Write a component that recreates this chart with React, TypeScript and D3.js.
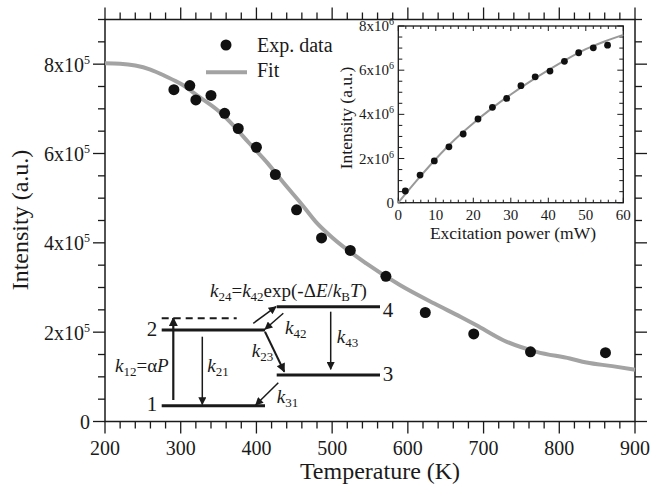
import React from 'react';
import * as d3 from 'd3';

// Main plot: temperature dependence (intensity in units of 1e5)
const tempData = [291, 312, 320, 340, 358, 376, 400, 425, 453, 486, 524, 571, 623, 687, 762, 861];
const intensityData = [7.43, 7.52, 7.2, 7.3, 6.9, 6.56, 6.14, 5.53, 4.74, 4.11, 3.83, 3.25, 2.44, 1.96, 1.56, 1.54];
const fitT = [200, 220, 240, 260, 280, 300, 325, 350, 370, 390, 415, 435, 460, 480, 500, 545, 590, 635, 670, 690, 726, 770, 814, 836, 870, 900];
const fitI = [8.02, 8.01, 7.97, 7.88, 7.73, 7.56, 7.26, 6.95, 6.62, 6.24, 5.78, 5.36, 4.86, 4.44, 4.12, 3.54, 3.05, 2.64, 2.34, 2.16, 1.82, 1.56, 1.41, 1.32, 1.24, 1.16];
const xTickValues = [200, 300, 400, 500, 600, 700, 800, 900];
const yTickValues = [0, 2, 4, 6, 8];
const yExponent = '5';

// Inset: power dependence (intensity in units of 1e6)
const powerData = [1.87, 5.8, 9.6, 13.5, 17.3, 21.25, 25.1, 28.9, 32.7, 36.5, 40.45, 44.3, 48.1, 52, 55.8];
const powerIntensity = [0.53, 1.25, 1.89, 2.53, 3.11, 3.79, 4.32, 4.72, 5.3, 5.7, 5.96, 6.4, 6.79, 7.01, 7.13];
const fitP = [0, 5, 10, 15, 20, 25, 30, 35, 40, 45, 50, 55, 60];
const fitPI = [0, 1.02, 1.98, 2.85, 3.6, 4.28, 4.9, 5.47, 6.0, 6.5, 6.95, 7.3, 7.6];
const insetXTicks = [0, 10, 20, 30, 40, 50, 60];
const insetYTicks = [0, 2, 4, 6, 8];
const insetExponent = '6';

const FONT = '"Liberation Serif", "Times New Roman", Times, serif';

export default function App() {
  const W = 663, H = 485;
  const x = d3.scaleLinear().domain([200, 900]).range([105, 635]);
  const y = d3.scaleLinear().domain([0, 9]).range([421.5, 19.5]);
  const ix = d3.scaleLinear().domain([0, 60]).range([398.3, 623.3]);
  const iy = d3.scaleLinear().domain([0, 8]).range([202.7, 26]);

  const fitLine = d3.line<number>().x((d, i) => x(fitT[i])).y((d) => y(d)).curve(d3.curveMonotoneX);
  const insetLine = d3.line<number>().x((d, i) => ix(fitP[i])).y((d) => iy(d)).curve(d3.curveMonotoneX);

  const [x0, x1] = x.range();
  const [y0, y1] = y.range();
  const xMinor = d3.range(200, 901, 20);
  const yMinor = d3.range(0, 9.01, 0.5);
  const isMajX = (v: number) => v % 100 === 0;
  const isMajY = (v: number) => Math.abs(v % 2) < 1e-9;

  const [ix0, ix1] = ix.range();
  const [iy0, iy1] = iy.range();
  const ixMinor = d3.range(0, 60.01, 2);
  const iyMinor = d3.range(0, 8.01, 0.5);

  const ax = '#1a1a1a';
  const fitColor = '#a3a3a3';

  const sub = (t: string, size = 13) => (
    <tspan fontSize={size} fontStyle="normal" dy={4}>{t}</tspan>
  );

  return (
    <svg width={W} height={H} style={{ position: 'absolute', left: 0, top: 0, background: '#fff' }} fontFamily={FONT}>
      <defs>
        <marker id="ah" viewBox="0 0 10 10" refX="9" refY="5" markerWidth="9" markerHeight="8" markerUnits="userSpaceOnUse" orient="auto">
          <path d="M0,0 L10,5 L0,10 z" fill={ax} />
        </marker>
        <marker id="ahb" viewBox="0 0 10 10" refX="9" refY="5" markerWidth="11" markerHeight="9" markerUnits="userSpaceOnUse" orient="auto">
          <path d="M0,0 L10,5 L0,10 z" fill={ax} />
        </marker>
      </defs>
      <rect x={0} y={0} width={W} height={H} fill="#fff" />

      {/* main frame */}
      <rect x={x0} y={y1} width={x1 - x0} height={y0 - y1} fill="none" stroke={ax} strokeWidth={1.5} />
      {xMinor.map((v) => {
        const len = isMajX(v) ? 12 : 7;
        return (
          <g key={'xt' + v}>
            <line x1={x(v)} x2={x(v)} y1={y0} y2={y0 + len} stroke={ax} strokeWidth={1.3} />
            <line x1={x(v)} x2={x(v)} y1={y1} y2={y1 - len} stroke={ax} strokeWidth={1.3} />
          </g>
        );
      })}
      {yMinor.map((v) => {
        const len = isMajY(v) ? 12 : 7;
        return (
          <g key={'yt' + v}>
            <line x1={x0} x2={x0 - len} y1={y(v)} y2={y(v)} stroke={ax} strokeWidth={1.3} />
            <line x1={x1} x2={x1 + len} y1={y(v)} y2={y(v)} stroke={ax} strokeWidth={1.3} />
          </g>
        );
      })}
      {xTickValues.map((v) => (
        <text key={'xl' + v} x={x(v)} y={455} fontSize={20} textAnchor="middle" fill={ax}>{v}</text>
      ))}
      {yTickValues.map((v) => (
        <text key={'yl' + v} x={90} y={y(v) + 7.5} fontSize={20} textAnchor="end" fill={ax}>
          {v === 0 ? '0' : (
            <>
              {v}x10<tspan fontSize={12} dy={-8}>{yExponent}</tspan>
            </>
          )}
        </text>
      ))}
      <text x={380} y={479} fontSize={24} textAnchor="middle" fill={ax}>Temperature (K)</text>
      <text transform={`translate(28,220) rotate(-90)`} fontSize={24} textAnchor="middle" fill={ax}>Intensity (a.u.)</text>

      {/* fit and data */}
      <path d={fitLine(fitI) || ''} fill="none" stroke={fitColor} strokeWidth={4} />
      {tempData.map((t, i) => (
        <circle key={'p' + i} cx={x(t)} cy={y(intensityData[i])} r={5.5} fill="#111" />
      ))}

      {/* legend */}
      <circle cx={226} cy={45} r={5.5} fill="#111" />
      <text x={257} y={51.5} fontSize={20} fill={ax}>Exp. data</text>
      <line x1={206} x2={247} y1={72.3} y2={72.3} stroke={fitColor} strokeWidth={4} />
      <text x={257} y={76.5} fontSize={20} fill={ax}>Fit</text>

      {/* inset */}
      <rect x={ix0} y={iy1} width={ix1 - ix0} height={iy0 - iy1} fill="#fff" stroke={ax} strokeWidth={1.3} />
      {ixMinor.map((v) => {
        const len = v % 10 === 0 ? 5 : 3;
        return (
          <g key={'ixt' + v}>
            <line x1={ix(v)} x2={ix(v)} y1={iy0} y2={iy0 - len} stroke={ax} strokeWidth={1} />
            <line x1={ix(v)} x2={ix(v)} y1={iy1} y2={iy1 + len} stroke={ax} strokeWidth={1} />
          </g>
        );
      })}
      {iyMinor.map((v) => {
        const len = isMajY(v) ? 6 : 4;
        return (
          <g key={'iyt' + v}>
            <line x1={ix0} x2={ix0 + len} y1={iy(v)} y2={iy(v)} stroke={ax} strokeWidth={1} />
            <line x1={ix1} x2={ix1 - len} y1={iy(v)} y2={iy(v)} stroke={ax} strokeWidth={1} />
          </g>
        );
      })}
      {insetXTicks.map((v) => (
        <text key={'ixl' + v} x={ix(v)} y={219.5} fontSize={15} textAnchor="middle" fill={ax}>{v}</text>
      ))}
      {insetYTicks.map((v) => (
        <text key={'iyl' + v} x={394} y={iy(v) + 5} fontSize={15} textAnchor="end" fill={ax}>
          {v === 0 ? '0' : (
            <>
              {v}x10<tspan fontSize={10} dy={-6}>{insetExponent}</tspan>
            </>
          )}
        </text>
      ))}
      <text x={513} y={239} fontSize={17.5} textAnchor="middle" fill={ax}>Excitation power (mW)</text>
      <text transform={`translate(352,118) rotate(-90)`} fontSize={17.5} textAnchor="middle" fill={ax}>Intensity (a.u.)</text>
      <path d={insetLine(fitPI) || ''} fill="none" stroke="#999" strokeWidth={2} />
      {powerData.map((p, i) => (
        <circle key={'ip' + i} cx={ix(p)} cy={iy(powerIntensity[i])} r={3.4} fill="#111" />
      ))}

      {/* energy level diagram */}
      <g stroke={ax} fill="none">
        <line x1={161.7} x2={265} y1={405.7} y2={405.7} strokeWidth={3} />
        <line x1={161.7} x2={265} y1={330} y2={330} strokeWidth={3} />
        <line x1={161.7} x2={236.7} y1={318.3} y2={318.3} strokeWidth={2} strokeDasharray="7,5" />
        <line x1={276.7} x2={380} y1={306.7} y2={306.7} strokeWidth={3} />
        <line x1={276.7} x2={380} y1={375} y2={375} strokeWidth={3} />
        <line x1={173.3} x2={173.3} y1={400} y2={318} strokeWidth={2.2} markerEnd="url(#ahb)" />
        <line x1={202.3} x2={202.3} y1={336.7} y2={404.5} strokeWidth={1.5} markerEnd="url(#ah)" />
        <line x1={253.3} x2={276} y1={323.3} y2={306.7} strokeWidth={1.5} markerEnd="url(#ah)" />
        <line x1={283.3} x2={265} y1={313.3} y2={329.3} strokeWidth={1.5} markerEnd="url(#ah)" />
        <line x1={265} x2={284.3} y1={331.7} y2={371.7} strokeWidth={2} markerEnd="url(#ahb)" />
        <line x1={330.7} x2={330.7} y1={311.7} y2={369.3} strokeWidth={1.5} markerEnd="url(#ah)" />
        <line x1={278.3} x2={255.7} y1={382.7} y2={405} strokeWidth={1.5} markerEnd="url(#ah)" />
      </g>
      <g fill={ax}>
        <text x={152} y={410.7} fontSize={21} textAnchor="middle">1</text>
        <text x={152} y={335.5} fontSize={21} textAnchor="middle">2</text>
        <text x={388} y={380.5} fontSize={21} textAnchor="middle">3</text>
        <text x={388} y={317} fontSize={21} textAnchor="middle">4</text>
        <text x={115} y={371.7} fontSize={19}>
          <tspan fontStyle="italic">k</tspan>{sub('12')}<tspan dy={-4}>=α</tspan><tspan fontStyle="italic">P</tspan>
        </text>
        <text x={207.3} y={371.7} fontSize={19}>
          <tspan fontStyle="italic">k</tspan>{sub('21')}
        </text>
        <text x={285} y={334} fontSize={19}>
          <tspan fontStyle="italic">k</tspan>{sub('42')}
        </text>
        <text x={251.7} y={357} fontSize={19}>
          <tspan fontStyle="italic">k</tspan>{sub('23')}
        </text>
        <text x={336.7} y={343.3} fontSize={19}>
          <tspan fontStyle="italic">k</tspan>{sub('43')}
        </text>
        <text x={276.7} y={402.7} fontSize={19}>
          <tspan fontStyle="italic">k</tspan>{sub('31')}
        </text>
        <text x={210} y={296.7} fontSize={19}>
          <tspan fontStyle="italic">k</tspan>{sub('24')}
          <tspan dy={-4}>=</tspan>
          <tspan fontStyle="italic">k</tspan>{sub('42')}
          <tspan dy={-4}>exp(-Δ</tspan>
          <tspan fontStyle="italic">E</tspan>
          <tspan>/</tspan>
          <tspan fontStyle="italic">k</tspan>{sub('B')}
          <tspan dy={-4} fontStyle="italic">T</tspan>
          <tspan>)</tspan>
        </text>
      </g>
    </svg>
  );
}
